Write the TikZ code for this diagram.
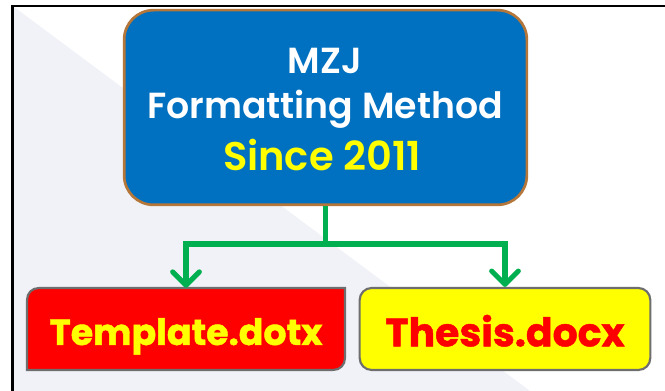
\documentclass[tikz,border=0pt]{standalone}
\usepackage{fontspec}
\setmainfont{Poppins}
\newfontfamily\semi{Poppins SemiBold}
\newfontfamily\heavy[FakeBold=1.2]{Poppins Bold}
\usetikzlibrary{arrows.meta}
\definecolor{bluefill}{RGB}{0,112,192}
\definecolor{brownline}{RGB}{181,118,58}
\definecolor{greenline}{RGB}{0,176,80}
\definecolor{bgtone}{RGB}{240,242,248}
\definecolor{greyline}{RGB}{110,110,110}
\definecolor{pureyellow}{RGB}{255,255,0}
\definecolor{purered}{RGB}{255,0,0}
\tikzset{
  px/.style={x=0.75pt,y=-0.75pt},
  mainbox/.style={draw=brownline,line width=2pt,fill=bluefill,rounded corners=22pt,minimum width=302pt,minimum height=146pt,align=center,inner sep=0pt},
  filebox/.style={minimum height=61.5pt,inner sep=0pt},
  yellowbox/.style={filebox,draw=greyline,line width=1.6pt,fill=pureyellow,rounded corners=9pt,minimum width=218pt},
  redbox/.style={filebox,minimum width=238pt},
  headtext/.style={align=center,font=\semi\fontsize{27.2}{27.2}\selectfont},
  conn/.style={draw=greenline,line width=3.8pt},
  connarrow/.style={conn,-{Straight Barb[length=10pt,width=20pt,line width=3.8pt,round]}},
}
\begin{document}
\begin{tikzpicture}[px]
\useasboundingbox (0,0) rectangle (665,391);
\fill[white] (0,0) rectangle (665,391);
\fill[bgtone] (14,7) -- (530,391) -- (14,391) -- cycle;
\draw[black,line width=2pt] (12.5,391) -- (12.5,6) -- (665,6);
\node[mainbox] (main) at (325.5,107.5) {};
\node[headtext,text=white] (l1) at (325,61) {MZJ};
\node[headtext,text=white] (l2) at (325,109) {Formatting Method};
\node[headtext,text=pureyellow,font=\semi\fontsize{30}{30}\selectfont] (l3) at (322,155) {Since 2011};
\draw[greyline,line width=1.6pt,fill=purered] (345,288) -- (345,358)
  .. controls (345,365) and (340,370) .. (333,370) -- (27,370) -- (27,300)
  .. controls (27,293) and (32,288) .. (39,288) -- cycle;
\node[redbox,text=pureyellow,font=\heavy\fontsize{27.2}{27.2}\selectfont] (tmpl) at (186,329) {\raisebox{-12pt}[0pt][0pt]{Template.dotx}};
\node[yellowbox,text=purered,font=\heavy\fontsize{29.5}{29.5}\selectfont] (thesis) at (505,329) {\raisebox{-13pt}[0pt][0pt]{Thesis.docx}};
\coordinate (bus) at (325.5,244);
\draw[conn] (main.south) -- (bus);
\draw[connarrow] (bus) -| (tmpl.north);
\draw[connarrow] (bus) -| (thesis.north);
\end{tikzpicture}
\end{document}
